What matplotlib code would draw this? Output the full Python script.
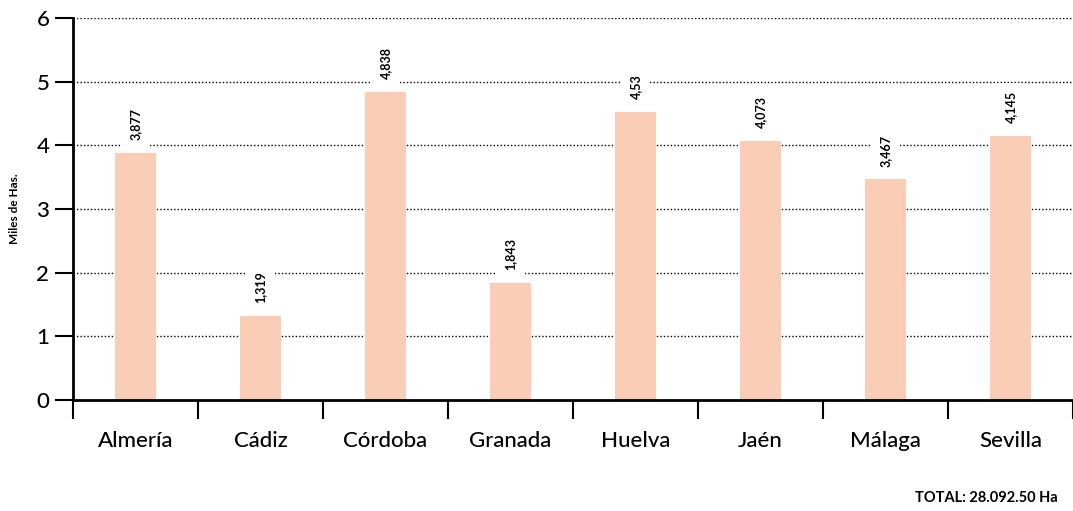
import matplotlib
matplotlib.use("Agg")
import matplotlib.pyplot as plt
import numpy as np

plt.rcParams['font.family'] = ['Lato', 'DejaVu Sans']

# data
provincias = ['Almería', 'Cádiz', 'Córdoba', 'Granada', 'Huelva', 'Jaén', 'Málaga', 'Sevilla']
miles_has = [3.877, 1.319, 4.838, 1.843, 4.53, 4.073, 3.467, 4.145]
etiquetas = ['3,877', '1,319', '4,838', '1,843', '4,53', '4,073', '3,467', '4,145']

fig = plt.figure(figsize=(10.73, 5.11), dpi=100)
ax = fig.add_axes([0.068, 0.217, 0.932, 0.748])

x = np.arange(len(provincias))
ax.bar(x, miles_has, width=0.33, color='#FACDB6', zorder=2)

# value labels, rotated, with white background cutting the grid
for xi, v, t in zip(x, miles_has, etiquetas):
    ax.text(xi, v + 0.2, t, rotation=90, ha='center', va='bottom', fontsize=9,
            fontweight='bold', zorder=3,
            bbox=dict(facecolor='white', edgecolor='none', pad=6))

ax.set_xlim(-0.5, len(provincias) - 0.5)
ax.set_ylim(0, 6)
ax.set_yticks(range(0, 7))
ax.set_yticklabels([str(i) for i in range(0, 7)], fontsize=16, fontweight='medium')

ax.set_xticks(np.arange(-0.5, len(provincias), 1.0))
ax.set_xticklabels([])
ax.set_xticks(x, minor=True)
ax.set_xticklabels(provincias, minor=True, fontsize=16, fontweight='medium')
ax.tick_params(axis='x', which='minor', length=0, pad=22)
ax.tick_params(axis='x', which='major', length=14, width=1.5, direction='out')
ax.tick_params(axis='y', length=13, width=1.5, direction='out', pad=4)

ax.yaxis.grid(True, linestyle=(0, (1, 1.5)), color='black', linewidth=1.0, zorder=1)
ax.set_axisbelow(True)

for s in ['top', 'right']:
    ax.spines[s].set_visible(False)
ax.spines['left'].set_linewidth(2)
ax.spines['bottom'].set_linewidth(2)

ax.set_ylabel('Miles de Has.', fontsize=8.5, fontweight='bold', labelpad=12)

fig.text(0.853, 0.012, 'TOTAL: 28.092.50 Ha', fontsize=10.5, fontweight='bold',
         ha='left', va='bottom')

fig.savefig('out.png', dpi=100)
